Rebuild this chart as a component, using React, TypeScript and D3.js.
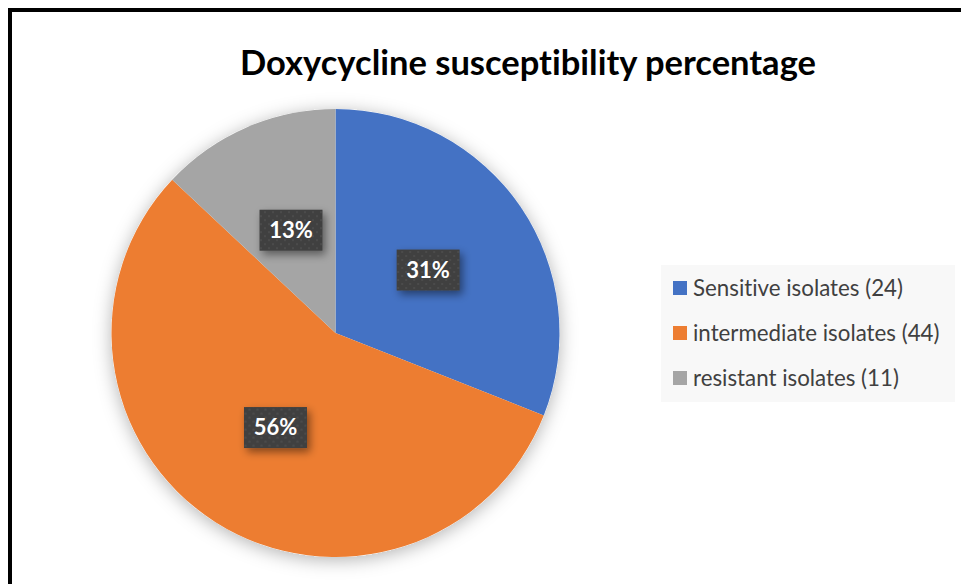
import React from "react";
import * as d3 from "d3";

const categories = ["Sensitive isolates", "intermediate isolates", "resistant isolates"];
const counts = [24, 44, 11];
const percents = [31, 56, 13];
const colors = ["#4472C4", "#ED7D31", "#A5A5A5"];
const title = "Doxycycline susceptibility percentage";

const W = 961;
const H = 584;
const cx = 335.5;
const cy = 333;
const R = 224;

export default function App() {
  const pie = d3.pie<number>().sort(null).value((d) => d);
  const arcs = pie(percents);
  const arcGen = d3.arc<d3.PieArcDatum<number>>().innerRadius(0).outerRadius(R);

  const legendX = 661;
  const legendY = 265;
  const legendRow = 45;
  const labelFont = "Lato, 'Open Sans', sans-serif";

  return (
    <svg
      width={W}
      height={H}
      style={{ position: "absolute", left: 0, top: 0, background: "#fff", fontVariantLigatures: "none" }}
    >
      <defs>
        <filter id="pieShadow" x="-20%" y="-20%" width="140%" height="140%">
          <feDropShadow dx="0" dy="3" stdDeviation="9" floodColor="#000" floodOpacity="0.3" />
        </filter>
        <filter id="boxShadow" x="-40%" y="-40%" width="180%" height="180%">
          <feDropShadow dx="3" dy="4" stdDeviation="4" floodColor="#000" floodOpacity="0.45" />
        </filter>
        <pattern id="dots" width="8" height="8" patternUnits="userSpaceOnUse">
          <rect width="8" height="8" fill="#404040" />
          <circle cx="2" cy="2" r="1.2" fill="#4b4b4b" />
          <circle cx="6" cy="6" r="1.2" fill="#4b4b4b" />
        </pattern>
      </defs>

      {/* frame */}
      <rect x={10} y={10} width={1200} height={1200} fill="none" stroke="#000" strokeWidth={4} />

      <text
        x={528}
        y={75}
        textAnchor="middle"
        fontFamily={labelFont}
        fontWeight={700}
        fontSize={34.5}
        fill="#000"
      >
        {title}
      </text>

      <g transform={`translate(${cx},${cy})`}>
        <circle r={R} fill="#fff" filter="url(#pieShadow)" />
        {arcs.map((a, i) => (
          <path key={i} d={arcGen(a) || ""} fill={colors[i]} />
        ))}
        {arcs.map((a, i) => {
          const [lx, ly] = arcGen.centroid(a);
          const bw = 63;
          const bh = 41;
          return (
            <g key={`l${i}`} transform={`translate(${lx},${ly})`}>
              <rect
                x={-bw / 2}
                y={-bh / 2}
                width={bw}
                height={bh}
                fill="url(#dots)"
                filter="url(#boxShadow)"
              />
              <text
                textAnchor="middle"
                dy="0.36em"
                fontFamily={labelFont}
                fontWeight={700}
                fontSize={22}
                fill="#fff"
              >
                {`${percents[i]}%`}
              </text>
            </g>
          );
        })}
      </g>

      <rect x={legendX} y={legendY} width={294} height={137} fill="#f8f8f8" />
      {categories.map((c, i) => {
        const y = 288 + i * legendRow;
        return (
          <g key={c}>
            <rect x={673} y={y - 7} width={14} height={14} fill={colors[i]} />
            <text
              x={693}
              y={y}
              dy="0.35em"
              fontFamily={labelFont}
              fontSize={22.3}
              fill="#404040"
            >
              {`${c} (${counts[i]})`}
            </text>
          </g>
        );
      })}
    </svg>
  );
}
